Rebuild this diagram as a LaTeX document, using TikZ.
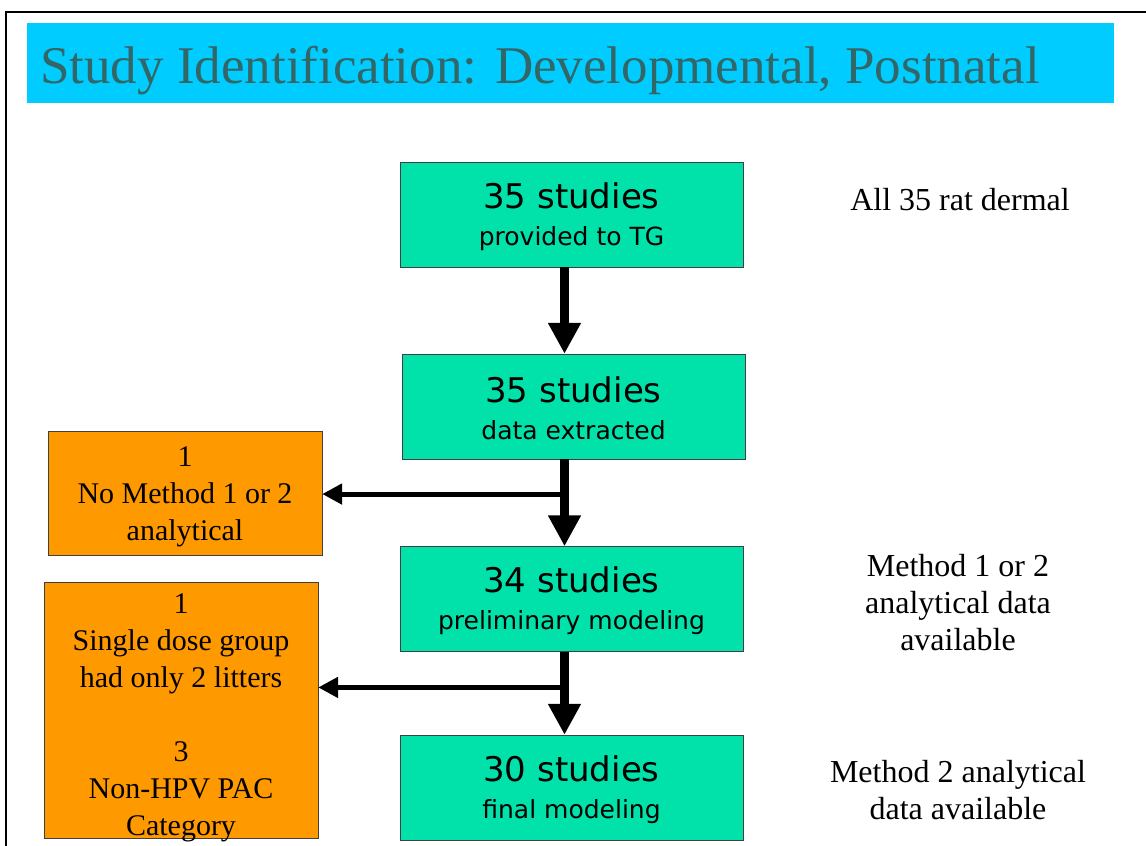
\documentclass[tikz,border=0pt]{standalone}
\usepackage{fontspec}
\setmainfont{Liberation Serif}
\newfontfamily\boxfont{DejaVu Sans}
\usetikzlibrary{arrows.meta,calc}

\definecolor{titlecyan}{RGB}{0,204,255}
\definecolor{titletext}{RGB}{51,102,102}
\definecolor{studygreen}{RGB}{0,226,170}
\definecolor{droporange}{RGB}{255,153,0}

\newcommand{\bignum}[1]{{\fontsize{34}{37}\selectfont #1}}
\newcommand{\nodepth}[1]{\raisebox{0pt}[\height][0pt]{#1}}

\begin{document}
\begin{tikzpicture}[x=1pt, y=-1pt,
  study/.style={draw=black!75, fill=studygreen, minimum width=343pt, minimum height=105pt,
    inner sep=0pt, align=center, font=\boxfont\fontsize{25}{37}\selectfont},
  drop/.style={draw=black!75, fill=droporange, minimum width=274pt, inner sep=0pt,
    align=center, font=\fontsize{30}{37}\selectfont},
  note/.style={align=center, font=\fontsize{32}{37}\selectfont},
  flow/.style={line width=9pt, -{Triangle[width=31pt,length=31pt]}},
  side/.style={line width=5pt, -{Triangle[width=20pt,length=20pt]}}]

\useasboundingbox (0,0) rectangle (1146,846);

% slide frame and title band
\draw[line width=2pt] (6,846) -- (6,12) -- (1146,12);
\fill[titlecyan] (27,23) rectangle (1114,103);
\node[anchor=base west, inner sep=0pt, text=titletext, font=\fontsize{53}{60}\selectfont]
  (title) at (40,83) {Study Identification: Developmental, Postnatal};

% main flow
\node[study] (s1) at (571.5,214.5) {\bignum{\rule{0pt}{30pt}35 studies}\\provided to TG};
\node[study] (s2) at (573.5,406.5) {\bignum{\rule{0pt}{30pt}35 studies}\\data extracted};
\node[study] (s3) at (571.5,599) {\bignum{\rule{0pt}{30pt}34 studies}\\preliminary modeling};
\node[study] (s4) at (571.5,787.5) {\bignum{\rule{0pt}{30pt}30 studies}\\final modeling};

% excluded studies
\node[drop, minimum height=124pt] (x1) at (185,493) {\rule{0pt}{27pt}1\\No Method 1 or 2\\analytical};
\node[drop, minimum height=256pt] (x2) at (181,710) {\rule{0pt}{28pt}1\\Single dose group\\had only 2 litters\\[37pt]3\\Non-HPV PAC\\\nodepth{Category}};

% notes on the right
\node[note] (n1) at (960,200) {All 35 rat dermal};
\node[note] (n3) at (958,603) {Method 1 or 2\\analytical data\\available};
\node[note] (n4) at (958,790) {Method 2 analytical\\data available};

% arrows
\coordinate (j1) at ($([xshift=-9pt]s2.south)!0.4!([xshift=-7pt]s3.north)$);
\coordinate (j2) at ($([xshift=-7pt]s3.south)!0.43!([xshift=-7pt]s4.north)$);
\draw[flow] ([xshift=-7pt]s1.south) -- ([xshift=-9pt]s2.north);
\draw[flow] ([xshift=-9pt]s2.south) -- ([xshift=-7pt]s3.north);
\draw[flow] ([xshift=-7pt]s3.south) -- ([xshift=-7pt]s4.north);
\draw[side] ([xshift=-4pt]j1) -- (j1 -| x1.east);
\draw[side] ([xshift=-4pt]j2) -- (j2 -| x2.east);

\end{tikzpicture}
\end{document}
